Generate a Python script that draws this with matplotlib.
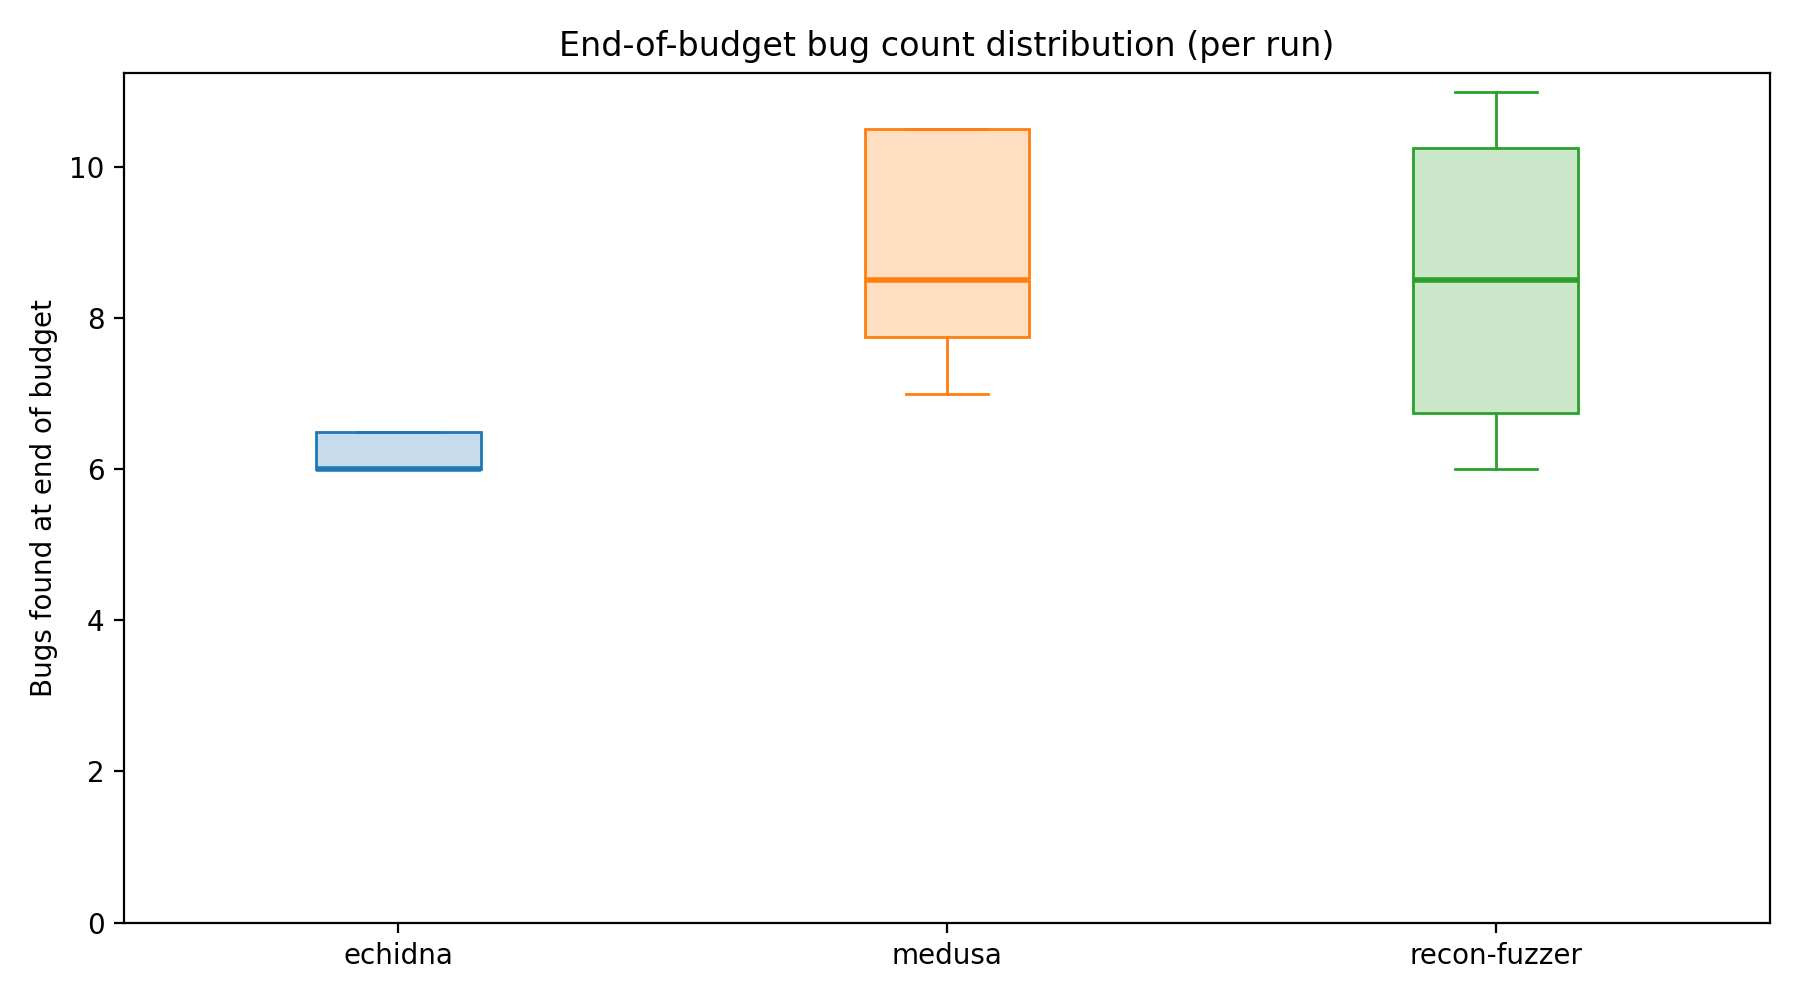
import matplotlib
matplotlib.use("Agg")
import matplotlib.pyplot as plt
from matplotlib.colors import to_rgba

labels = ["echidna", "medusa", "recon-fuzzer"]
whislo = [6.0, 7.0, 6.0]
q1 = [6.0, 7.75, 6.75]
med = [6.0, 8.5, 8.5]
q3 = [6.5, 10.5, 10.25]
whishi = [6.5, 10.5, 11.0]
colors = ["#1f77b4", "#ff7f0e", "#2ca02c"]

stats = [dict(label=l, whislo=a, q1=b, med=c, q3=d, whishi=e, fliers=[])
         for l, a, b, c, d, e in zip(labels, whislo, q1, med, q3, whishi)]

fig, ax = plt.subplots(figsize=(9, 5), dpi=200)
bp = ax.bxp(stats, widths=0.3, patch_artist=True, showfliers=False)
for i, c in enumerate(colors):
    bp["boxes"][i].set_facecolor(to_rgba(c, 0.25))
    bp["boxes"][i].set_edgecolor(c)
    bp["medians"][i].set_color(c)
    bp["medians"][i].set_linewidth(2)
    for j in (2 * i, 2 * i + 1):
        bp["whiskers"][j].set_color(c)
        bp["caps"][j].set_color(c)
ax.set_ylim(0, 11.25)
ax.set_ylabel("Bugs found at end of budget")
ax.set_title("End-of-budget bug count distribution (per run)")
fig.tight_layout()
fig.savefig("out.png")
